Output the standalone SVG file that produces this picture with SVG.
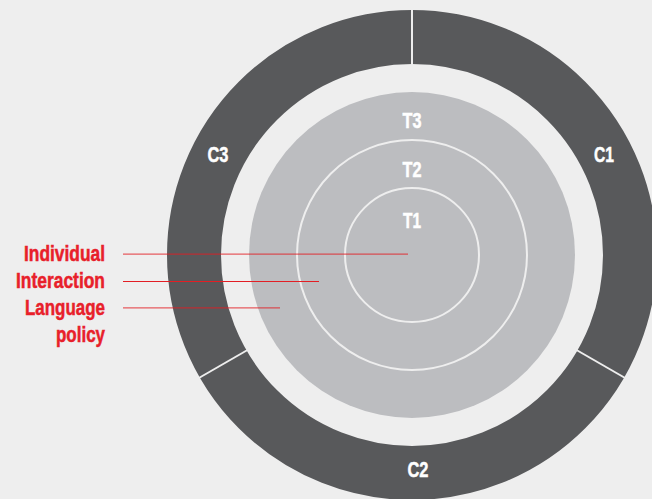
<svg xmlns="http://www.w3.org/2000/svg" width="652" height="499" viewBox="0 0 652 499">
  <style>
    .lbl { font-family: "Liberation Sans", Arial, sans-serif; font-weight: bold; font-size: 22px; stroke-width: 0.5; }
    .wt { fill: #ffffff; stroke: #ffffff; text-anchor: middle; }
    .rd { fill: #e8202a; stroke: #e8202a; text-anchor: end; }
    .sep { stroke: #eeeeee; stroke-width: 2; fill: none; }
    .ptr { stroke: #e31e24; stroke-width: 1.2; }
  </style>
  <rect width="652" height="499" fill="#eeeeee"/>

  <!-- outer ring split into three contexts -->
  <g id="ring">
    <circle cx="412" cy="255" r="218" fill="none" stroke="#58595b" stroke-width="54"/>
    <line class="sep" x1="412" y1="65" x2="412" y2="8"/>
    <line class="sep" x1="576.5" y1="350" x2="626" y2="378.5"/>
    <line class="sep" x1="247.5" y1="350" x2="198" y2="378.5"/>
  </g>
  <g id="C1"><text class="lbl wt" x="604" y="162" textLength="20" lengthAdjust="spacingAndGlyphs">C1</text></g>
  <g id="C2"><text class="lbl wt" x="418" y="477" textLength="21" lengthAdjust="spacingAndGlyphs">C2</text></g>
  <g id="C3"><text class="lbl wt" x="218" y="162" textLength="21" lengthAdjust="spacingAndGlyphs">C3</text></g>

  <!-- inner disc with nested tiers -->
  <g id="T3">
    <circle cx="412" cy="255" r="163" fill="#bcbdc0"/>
    <text class="lbl wt" x="412" y="128" textLength="19" lengthAdjust="spacingAndGlyphs">T3</text>
  </g>
  <g id="T2">
    <circle class="sep" cx="412" cy="255" r="115"/>
    <text class="lbl wt" x="412" y="177" textLength="19" lengthAdjust="spacingAndGlyphs">T2</text>
  </g>
  <g id="T1">
    <circle class="sep" cx="412" cy="255" r="67"/>
    <text class="lbl wt" x="412" y="228" textLength="18" lengthAdjust="spacingAndGlyphs">T1</text>
  </g>

  <!-- level labels -->
  <g id="Individual"><text class="lbl rd" x="105" y="261" textLength="81" lengthAdjust="spacingAndGlyphs">Individual</text></g>
  <g id="Interaction"><text class="lbl rd" x="105" y="288" textLength="89" lengthAdjust="spacingAndGlyphs">Interaction</text></g>
  <g id="Language"><text class="lbl rd" x="105" y="315" textLength="80" lengthAdjust="spacingAndGlyphs">Language</text><text class="lbl rd" x="105" y="342" textLength="49" lengthAdjust="spacingAndGlyphs">policy</text></g>

  <g id="connectors">
    <line class="ptr" x1="123" y1="254.2" x2="408" y2="254.2" stroke-opacity="0.7"/>
    <line class="ptr" x1="123" y1="281.5" x2="319" y2="281.5"/>
    <line class="ptr" x1="123" y1="307.8" x2="280" y2="307.8" stroke-opacity="0.7"/>
  </g>
</svg>
